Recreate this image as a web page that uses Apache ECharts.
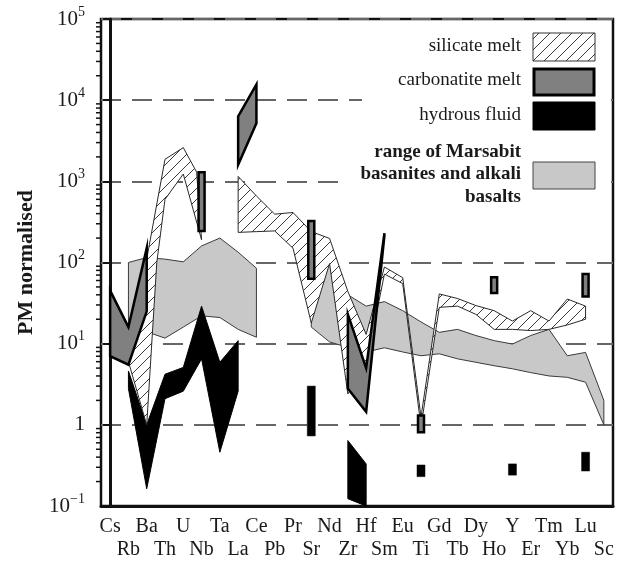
<!DOCTYPE html>
<html><head><meta charset="utf-8">
<script src="https://cdn.jsdelivr.net/npm/echarts@6/dist/echarts.min.js"></script>
<style>html,body{margin:0;padding:0;background:#fff}#c{width:618px;height:561px}</style>
</head><body><div id="c"></div>
<script>
// ---------------- data ----------------
const categories = ['Cs','Rb','Ba','Th','U','Nb','Ta','La','Ce','Pb','Pr','Sr','Nd','Zr','Hf','Sm','Eu','Ti','Gd','Tb','Dy','Ho','Y','Er','Tm','Yb','Lu','Sc'];
const yTicks = [0.1, 1, 10, 100, 1000, 10000, 100000];

// range of Marsabit basanites and alkali basalts (two segments)
const basaltA_cats  = ['Rb','Ba','Th','U','Nb','Ta','La','Ce'];
const basaltA_upper = [100, 115, 110, 102, 160, 200, 134, 85];
const basaltA_lower = [16, 14, 11.7, 16, 22, 21, 15, 12];
const basaltB_cats  = ['Sr','Nd','Zr','Hf','Sm','Eu','Ti','Gd','Tb','Dy','Ho','Y','Er','Tm','Yb','Lu','Sc'];
const basaltB_upper = [57, 95, 40, 29, 33, 25.5, 18.5, 13.8, 15, 12.6, 10.9, 9.9, 12.6, 15, 7.1, 7.8, 2];
const basaltB_lower = [16, 10.5, 9, 7.9, 8.9, 7.9, 7.1, 7.5, 6.5, 5.9, 5.35, 4.9, 4.4, 4.0, 3.85, 3.35, 1];

// silicate melt
const silicateA_outline = [[1, 6], [2, 110], [3, 1870], [4, 2600], [4.73, 1300], [5, 190], [4, 1230], [3, 600], [2.55, 100], [2, 1.0]];
const silicateB_cats  = ['La','Ce','Pb','Pr','Sr','Nd','Zr','Hf','Sm','Eu','Ti','Gd','Tb','Dy','Ho','Y','Er','Tm','Yb','Lu'];
const silicateB_upper = [1150, 660, 394, 413, 240, 198, 44, 13, 88, 65, 1.25, 41, 36, 29.5, 25.5, 19, 25.5, 19, 35.5, 29];
const silicateB_lower = [235, 240, 245, 150, 18, 97, 2.4, 5.5, 72, 55, 0.95, 28, 29, 23, 15, 15, 14.5, 15, 17, 20];

// carbonatite melt
const carbonatite_CsBa = [[0, 45], [1, 16], [2, 150], [2, 25], [1, 5.5], [0, 7]];
const carbonatite_LaCe = [[7, 6300], [8, 15600], [8, 5200], [7, 1600]];
const carbonatite_ZrSm = [[13, 23], [14, 5], [15, 230], [15, 215], [14, 1.45], [13, 2.8]];
const carbonatite_bars = [['Nb', 245, 1290], ['Sr', 63, 325], ['Ti', 0.81, 1.3], ['Ho', 42, 66], ['Lu', 38, 72]];

// hydrous fluid
const fluid_cats  = ['Rb','Ba','Th','U','Nb','Ta','La'];
const fluid_upper = [4.6, 1.0, 4.2, 5.1, 29, 5.9, 10.9];
const fluid_lower = [2.8, 0.163, 2.1, 2.6, 6.5, 0.46, 2.6];
const fluid_ZrHf  = [[13, 0.64], [14, 0.33], [14, 0.1], [13, 0.123]];
const fluid_bars  = [['Sr', 0.73, 3.0], ['Ti', 0.23, 0.32], ['Y', 0.24, 0.33], ['Lu', 0.27, 0.46]];

// ---------------- helpers ----------------
const idx = c => categories.indexOf(c);
function band(cats, up, lo) {
  const pts = cats.map((c, i) => [idx(c), up[i]]);
  for (let i = cats.length - 1; i >= 0; i--) pts.push([idx(cats[i]), lo[i]]);
  return pts;
}
function makeHatch() {
  const s = 11, c = document.createElement('canvas');
  c.width = s; c.height = s;
  const g = c.getContext('2d');
  g.fillStyle = '#fff'; g.fillRect(0, 0, s, s);
  g.strokeStyle = '#3a3a3a'; g.lineWidth = 1;
  g.beginPath();
  g.moveTo(-1, s + 1); g.lineTo(s + 1, -1);
  g.moveTo(-s / 2 - 1, s / 2 + 1); g.lineTo(s / 2 + 1, -s / 2 - 1);
  g.moveTo(s / 2 - 1, s * 1.5 + 1); g.lineTo(s * 1.5 + 1, s / 2 - 1);
  g.stroke();
  return c;
}
const hatch = { image: makeHatch(), repeat: 'repeat' };

function polySeries(shapes, style, z) {
  return {
    type: 'custom', coordinateSystem: 'cartesian2d', xAxisIndex: 1, yAxisIndex: 0,
    z: z, silent: true, clip: false, data: [[0, 1]],
    renderItem: (params, api) => ({
      type: 'group',
      children: shapes.map(s => ({
        type: 'polygon',
        shape: { points: s.map(p => api.coord(p)) },
        style: Object.assign({}, style)
      }))
    })
  };
}
function barSeries(bars, width, style, z) {
  return {
    type: 'custom', coordinateSystem: 'cartesian2d', xAxisIndex: 1, yAxisIndex: 0,
    z: z, silent: true, clip: false, data: [[0, 1]],
    renderItem: (params, api) => ({
      type: 'group',
      children: bars.map(b => {
        const top = api.coord([idx(b[0]), b[2]]);
        const bot = api.coord([idx(b[0]), b[1]]);
        return { type: 'rect', shape: { x: top[0] - width / 2, y: top[1], width: width, height: bot[1] - top[1] }, style: Object.assign({}, style) };
      })
    })
  };
}
// minor log ticks on the y axis (2..9 x 10^k)
const minorTickSeries = {
  type: 'custom', coordinateSystem: 'cartesian2d', xAxisIndex: 1, yAxisIndex: 0,
  z: 10, silent: true, clip: false, data: [[0, 1]],
  renderItem: (params, api) => {
    const ch = [];
    for (let k = -1; k < 5; k++) for (let m = 2; m <= 9; m++) {
      const p = api.coord([-0.5, m * Math.pow(10, k)]);
      ch.push({ type: 'line', shape: { x1: p[0] - 5, y1: p[1], x2: p[0], y2: p[1] }, style: { stroke: '#111', lineWidth: 1.5 } });
    }
    return { type: 'group', children: ch };
  }
};

const serif = 'Liberation Serif';
const txt = '#1a1a1a';

const option = {
  animation: false,
  backgroundColor: '#fff',
  grid: { left: 101, right: 5, top: 19, bottom: 54, show: true, borderColor: '#111', borderWidth: 2.5, backgroundColor: 'transparent' },
  xAxis: [
    {
      type: 'category', data: categories, boundaryGap: true,
      axisLine: { lineStyle: { color: '#111', width: 3 } },
      axisTick: { alignWithLabel: true, length: 5, lineStyle: { color: '#111', width: 2 } },
      axisLabel: {
        interval: 0, margin: 9, color: txt, fontFamily: serif, fontSize: 20, lineHeight: 23,
        formatter: (v, i) => (i % 2 ? '\n' + v : v)
      },
      splitLine: { show: false }
    },
    { type: 'value', min: -0.5, max: 27.5, show: false }
  ],
  yAxis: {
    type: 'log', logBase: 10, min: 0.1, max: 100000,
    name: 'PM normalised', nameLocation: 'middle', nameGap: 64, nameRotate: 90,
    nameTextStyle: { fontFamily: serif, fontSize: 22, fontWeight: 'bold', color: txt },
    axisLine: { lineStyle: { color: '#111', width: 3 } },
    axisTick: { length: 7, lineStyle: { color: '#111', width: 2 } },
    axisLabel: {
      margin: 16, color: txt,
      formatter: v => {
        const e = Math.round(Math.log10(v));
        if (e === 0) return '{b|1}';
        return '{b|10}{s|' + (e < 0 ? '\u2212' + (-e) : e) + '}';
      },
      rich: {
        b: { fontFamily: serif, fontSize: 21, color: txt },
        s: { fontFamily: serif, fontSize: 14, color: txt, padding: [0, 0, 14, 0] }
      }
    },
    splitLine: { show: true, lineStyle: { color: '#666', width: 2, type: [20, 11] } }
  },
  graphic: [
    { type: 'rect', z: 100, shape: { x: 362, y: 22, width: 249, height: 120 }, style: { fill: '#fff', stroke: null } },
    { type: 'rect', z: 100, shape: { x: 349, y: 140, width: 262, height: 70 }, style: { fill: '#fff', stroke: null } },
    { type: 'rect', z: 101, shape: { x: 533, y: 33, width: 62, height: 28 }, style: { fill: hatch, stroke: '#333', lineWidth: 1 } },
    { type: 'rect', z: 101, shape: { x: 534, y: 69, width: 60, height: 26 }, style: { fill: '#808080', stroke: '#000', lineWidth: 3 } },
    { type: 'rect', z: 101, shape: { x: 533, y: 102, width: 62, height: 28 }, style: { fill: '#000', stroke: '#000', lineWidth: 1 } },
    { type: 'rect', z: 101, shape: { x: 533, y: 162, width: 62, height: 27 }, style: { fill: '#c8c8c8', stroke: '#444', lineWidth: 1 } },
    { type: 'text', z: 101, x: 521, y: 46, style: { text: 'silicate melt', align: 'right', verticalAlign: 'middle', font: '19px "Liberation Serif"', fill: txt } },
    { type: 'text', z: 101, x: 521, y: 80, style: { text: 'carbonatite melt', align: 'right', verticalAlign: 'middle', font: '19px "Liberation Serif"', fill: txt } },
    { type: 'text', z: 101, x: 521, y: 115, style: { text: 'hydrous fluid', align: 'right', verticalAlign: 'middle', font: '19px "Liberation Serif"', fill: txt } },
    { type: 'text', z: 101, x: 521, y: 152, style: { text: 'range of Marsabit', align: 'right', verticalAlign: 'middle', font: 'bold 19px "Liberation Serif"', fill: txt } },
    { type: 'text', z: 101, x: 521, y: 174, style: { text: 'basanites and alkali', align: 'right', verticalAlign: 'middle', font: 'bold 19px "Liberation Serif"', fill: txt } },
    { type: 'text', z: 101, x: 521, y: 197, style: { text: 'basalts', align: 'right', verticalAlign: 'middle', font: 'bold 19px "Liberation Serif"', fill: txt } }
  ],
  series: [
    polySeries([band(basaltA_cats, basaltA_upper, basaltA_lower), band(basaltB_cats, basaltB_upper, basaltB_lower)],
      { fill: '#c8c8c8', stroke: '#3a3a3a', lineWidth: 1 }, 2),
    polySeries([band(fluid_cats, fluid_upper, fluid_lower), fluid_ZrHf],
      { fill: '#000', stroke: '#000', lineWidth: 1 }, 3),
    barSeries(fluid_bars, 8, { fill: '#000', stroke: '#000', lineWidth: 0.5 }, 3),
    polySeries([silicateA_outline, band(silicateB_cats, silicateB_upper, silicateB_lower)],
      { fill: hatch, stroke: '#2a2a2a', lineWidth: 1 }, 4),
    polySeries([carbonatite_CsBa, carbonatite_LaCe, carbonatite_ZrSm],
      { fill: '#808080', stroke: '#000', lineWidth: 2.5, lineJoin: 'miter' }, 5),
    barSeries(carbonatite_bars, 6, { fill: '#808080', stroke: '#000', lineWidth: 2.5 }, 5),
    minorTickSeries
  ]
};
const chart = echarts.init(document.getElementById('c'), null, { renderer: 'canvas' });
chart.setOption(option);
</script>
</body></html>
